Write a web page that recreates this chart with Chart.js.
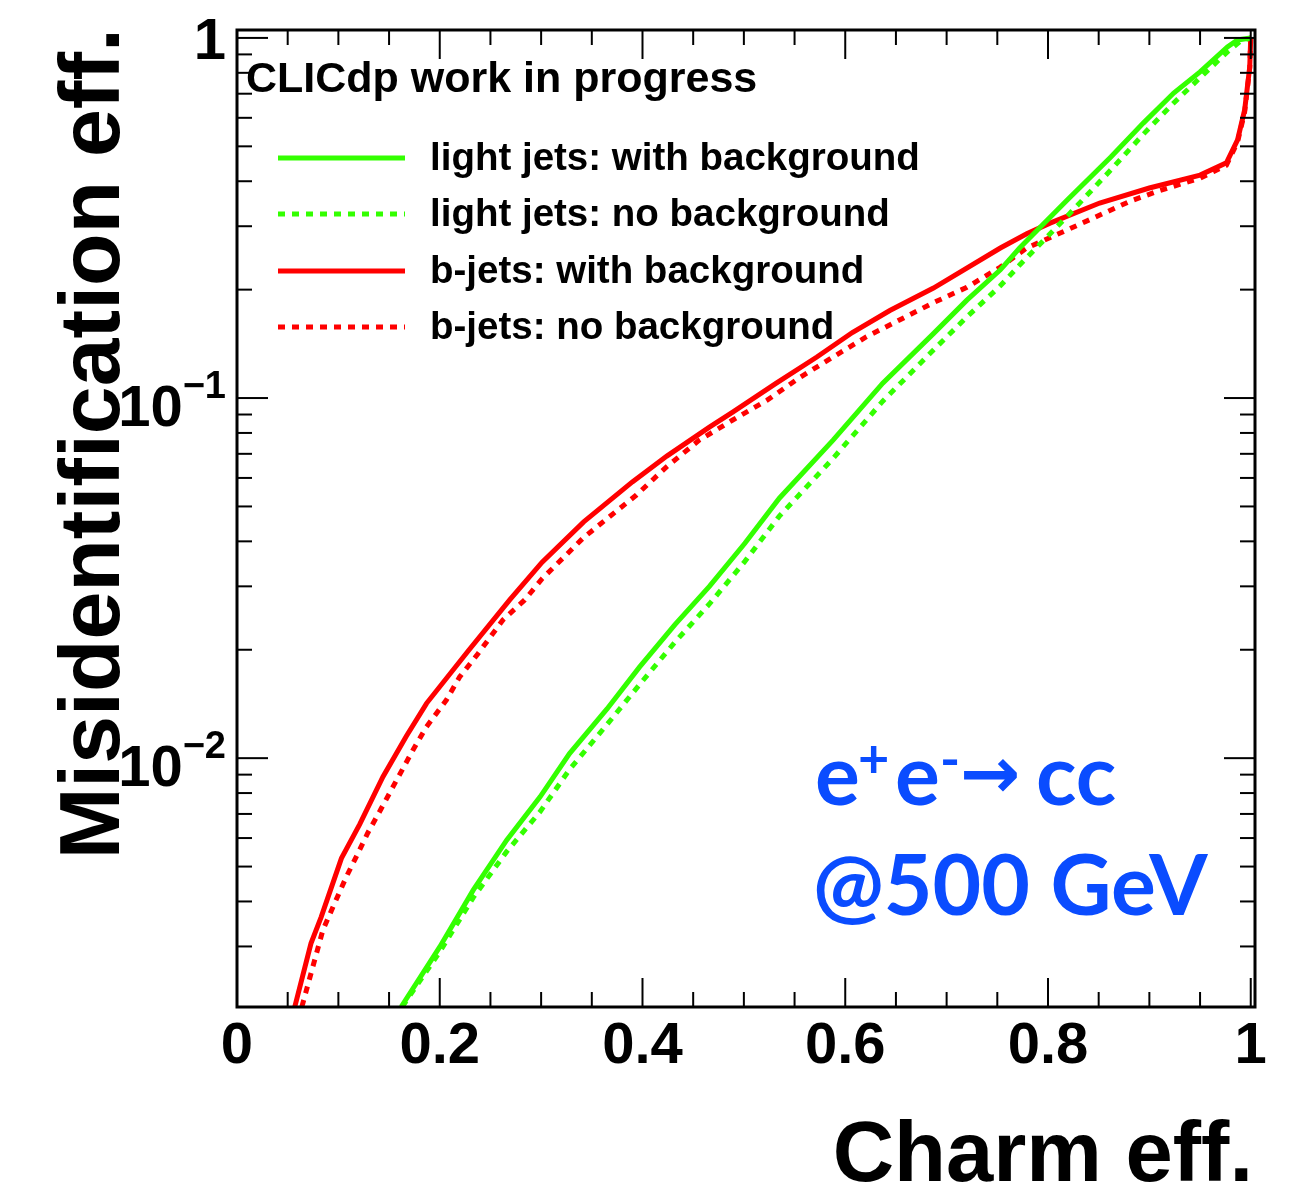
<!DOCTYPE html>
<html>
<head>
<meta charset="utf-8">
<script src="https://cdn.jsdelivr.net/npm/chart.js@4.4.1/dist/chart.umd.min.js"></script>
<style>
  html, body { margin: 0; background: #fff; }
  #wrap { width: 1291px; height: 1188px; }
</style>
</head>
<body>
<div id="wrap"><canvas id="roc"></canvas></div>
<script>
// --- data ---
const lightBgX = [0.162, 0.2, 0.233, 0.266, 0.299, 0.328, 0.365, 0.397, 0.432, 0.466, 0.501, 0.535, 0.588, 0.637, 0.687, 0.72, 0.753, 0.772, 0.819, 0.862, 0.894, 0.924, 0.95, 0.977, 0.987, 1.0];
const lightBgY = [0.00204, 0.00299, 0.0043, 0.00592, 0.00781, 0.0103, 0.0137, 0.0179, 0.0235, 0.0300, 0.0395, 0.0527, 0.0764, 0.110, 0.151, 0.187, 0.227, 0.261, 0.355, 0.467, 0.58, 0.703, 0.805, 0.944, 0.987, 1.0];

const lightNoX = [0.163, 0.2, 0.233, 0.266, 0.299, 0.328, 0.365, 0.397, 0.432, 0.466, 0.501, 0.535, 0.588, 0.637, 0.687, 0.72, 0.753, 0.772, 0.819, 0.862, 0.894, 0.924, 0.95, 0.977, 0.99, 1.0];
const lightNoY = [0.00204, 0.0029, 0.0041, 0.0055, 0.0071, 0.0093, 0.0124, 0.0160, 0.0210, 0.0268, 0.0352, 0.047, 0.068, 0.098, 0.136, 0.168, 0.205, 0.234, 0.32, 0.43, 0.54, 0.66, 0.775, 0.915, 0.98, 1.0];

const bBgX = [0.057, 0.073, 0.083, 0.103, 0.121, 0.144, 0.167, 0.187, 0.229, 0.269, 0.301, 0.342, 0.39, 0.424, 0.466, 0.489, 0.532, 0.572, 0.607, 0.644, 0.687, 0.753, 0.779, 0.802, 0.851, 0.9, 0.95, 0.976, 0.987, 0.994, 0.999, 1.0];
const bBgY = [0.00204, 0.00306, 0.00362, 0.00527, 0.00655, 0.00888, 0.0115, 0.0142, 0.0200, 0.0275, 0.035, 0.0453, 0.0585, 0.0690, 0.083, 0.0914, 0.110, 0.130, 0.152, 0.175, 0.202, 0.261, 0.286, 0.306, 0.348, 0.383, 0.416, 0.45, 0.521, 0.631, 0.83, 1.0];

const bNoX = [0.064, 0.0847, 0.0962, 0.1078, 0.1176, 0.129, 0.1406, 0.1538, 0.1735, 0.1867, 0.2065, 0.2196, 0.2377, 0.2623, 0.2838, 0.301, 0.342, 0.394, 0.424, 0.456, 0.489, 0.523, 0.555, 0.588, 0.621, 0.654, 0.687, 0.72, 0.753, 0.779, 0.819, 0.881, 0.908, 0.95, 0.963, 0.976, 0.987, 0.994, 0.999, 1.0];
const bNoY = [0.00204, 0.00333, 0.00395, 0.00468, 0.00532, 0.00620, 0.00710, 0.00832, 0.01052, 0.0122, 0.0145, 0.0168, 0.0195, 0.0242, 0.0275, 0.0315, 0.041, 0.0538, 0.0645, 0.0764, 0.0869, 0.0987, 0.114, 0.130, 0.148, 0.165, 0.184, 0.203, 0.231, 0.261, 0.293, 0.352, 0.375, 0.408, 0.425, 0.443, 0.514, 0.623, 0.825, 1.0];

const legendLabels = ['light jets: with background', 'light jets: no background', 'b-jets: with background', 'b-jets: no background'];
const xTickValues = [0, 0.2, 0.4, 0.6, 0.8, 1];
const xTickLabels = ['0', '0.2', '0.4', '0.6', '0.8', '1'];
const yTickValues = [1, 0.1, 0.01];
const yTickBase = ['1', '10', '10'];
const yTickExp = ['', '\u22121', '\u22122'];

const GREEN = '#33ff00';
const RED = '#ff0000';
const DASH = [7, 7];

function pts(xs, ys) { return xs.map((x, i) => ({ x: x, y: ys[i] })); }

// --- ROOT-like frame, ticks, labels, legend ---
const rootFrame = {
  id: 'rootFrame',
  afterDraw(chart) {
    const { ctx, chartArea: a, scales: { x, y } } = chart;
    const seg = (x1, y1, x2, y2) => { ctx.beginPath(); ctx.moveTo(x1, y1); ctx.lineTo(x2, y2); ctx.stroke(); };
    ctx.save();
    ctx.strokeStyle = '#000';
    ctx.lineWidth = 2;

    // x ticks, bottom and top
    for (let i = 0; i <= 20; i++) {
      const px = x.getPixelForValue(i * 0.05);
      const len = i % 4 === 0 ? 29 : 15;
      seg(px, a.bottom, px, a.bottom - len);
      seg(px, a.top, px, a.top + len);
    }
    // y ticks, left and right
    for (let e = -3; e <= 0; e++) {
      for (let m = 1; m <= 9; m++) {
        const v = m * Math.pow(10, e);
        if (v < y.min || v > y.max) continue;
        const py = y.getPixelForValue(v);
        const len = m === 1 ? 31 : 15;
        seg(a.left, py, a.left + len, py);
        seg(a.right, py, a.right - len, py);
      }
    }
    ctx.lineWidth = 3;
    ctx.strokeRect(a.left, a.top, a.right - a.left, a.bottom - a.top);

    // tick labels
    ctx.fillStyle = '#000';
    ctx.font = 'bold 58px "Liberation Sans", Arial, sans-serif';
    ctx.textAlign = 'center';
    ctx.textBaseline = 'alphabetic';
    xTickValues.forEach((v, i) => ctx.fillText(xTickLabels[i], x.getPixelForValue(v), 1063));

    ctx.textAlign = 'right';
    yTickValues.forEach((v, i) => {
      const py = y.getPixelForValue(v);
      const right = a.left - 11;
      if (!yTickExp[i]) {
        ctx.font = 'bold 58px "Liberation Sans", Arial, sans-serif';
        ctx.fillText(yTickBase[i], right, py + 21);
      } else {
        ctx.font = 'bold 38px "Liberation Sans", Arial, sans-serif';
        const w = ctx.measureText(yTickExp[i]).width;
        ctx.fillText(yTickExp[i], right, py);
        ctx.font = 'bold 58px "Liberation Sans", Arial, sans-serif';
        ctx.fillText(yTickBase[i], right - w, py + 28);
      }
    });

    // axis titles
    ctx.font = 'bold 85px "Liberation Sans", Arial, sans-serif';
    ctx.textAlign = 'right';
    ctx.fillText('Charm eff.', 1253, 1181);
    ctx.font = 'bold 86px "Liberation Sans", Arial, sans-serif';
    ctx.save();
    ctx.translate(119, 28);
    ctx.rotate(-Math.PI / 2);
    ctx.fillText('Misidentification eff.', 0, 0);
    ctx.restore();

    // label
    ctx.textAlign = 'left';
    ctx.font = 'bold 43px "Liberation Sans", Arial, sans-serif';
    ctx.fillText('CLICdp work in progress', 246, 92);

    // legend
    const rows = [158, 214, 271, 327];
    chart.data.datasets.forEach((ds, i) => {
      ctx.strokeStyle = ds.borderColor;
      ctx.lineWidth = 5;
      ctx.setLineDash(ds.borderDash || []);
      seg(278, rows[i], 405, rows[i]);
      ctx.setLineDash([]);
      ctx.font = 'bold 38.5px "Liberation Sans", Arial, sans-serif';
      ctx.fillStyle = '#000';
      ctx.fillText(legendLabels[i], 430, rows[i] + 12);
    });

    // process text
    ctx.fillStyle = '#0a4cff';
    const big = 'bold 84px Lato, "Open Sans", sans-serif';
    const sup = 'bold 54px Lato, "Open Sans", sans-serif';
    ctx.font = big;
    ctx.fillText('e', 815, 805);
    ctx.font = sup;
    ctx.fillText('+', 858, 778);
    ctx.font = big;
    ctx.fillText('e', 895, 805);
    ctx.font = sup;
    ctx.fillText('-', 940, 778);
    ctx.font = 'bold 72px "DejaVu Sans", sans-serif';
    ctx.fillText('\u2192', 960, 798);
    ctx.font = big;
    ctx.fillText('cc', 1036, 805);
    ctx.fillText('@500 GeV', 813, 915);

    ctx.restore();
  }
};

new Chart(document.getElementById('roc'), {
  type: 'line',
  data: {
    datasets: [
      { label: legendLabels[0], data: pts(lightBgX, lightBgY), borderColor: GREEN, borderWidth: 5 },
      { label: legendLabels[1], data: pts(lightNoX, lightNoY), borderColor: GREEN, borderWidth: 5, borderDash: DASH },
      { label: legendLabels[2], data: pts(bBgX, bBgY), borderColor: RED, borderWidth: 5 },
      { label: legendLabels[3], data: pts(bNoX, bNoY), borderColor: RED, borderWidth: 5, borderDash: DASH }
    ]
  },
  options: {
    responsive: true,
    maintainAspectRatio: false,
    devicePixelRatio: 1,
    animation: false,
    layout: { padding: { left: 237, top: 30, right: 36, bottom: 181 } },
    elements: { point: { radius: 0 }, line: { tension: 0, fill: false } },
    plugins: { legend: { display: false }, tooltip: { enabled: false } },
    scales: {
      x: { type: 'linear', min: 0, max: 1.0042, display: false },
      y: { type: 'logarithmic', min: 0.002037, max: 1.052, display: false }
    }
  },
  plugins: [rootFrame]
});
</script>
</body>
</html>
